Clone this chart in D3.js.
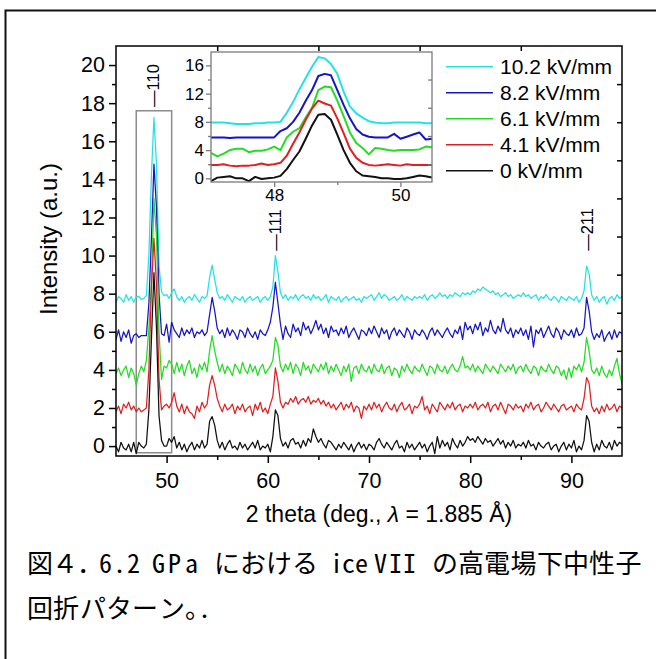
<!DOCTYPE html>
<html><head><meta charset="utf-8">
<script src="https://cdn.jsdelivr.net/npm/d3@7/dist/d3.min.js"></script>
<style>
html,body{margin:0;padding:0;background:#fff;}
svg{display:block;}
text{font-family:"Liberation Sans",Arial,sans-serif;fill:#000;}
.cap text{font-family:"Noto Sans Mono CJK JP","Noto Sans CJK JP",sans-serif;}
</style></head><body>
<svg id="c" width="656" height="659"></svg>
<script>
// ---------------- DATA ----------------
const seriesLabels = ["0 kV/mm", "4.1 kV/mm", "6.1 kV/mm", "8.2 kV/mm", "10.2 kV/mm"];
const seriesColors = ["#111111", "#e02020", "#22dd22", "#1515c8", "#22e3e3"];
const offsets = [0, 2.0, 4.0, 5.9, 7.75];
const thetaStart = 45, thetaStep = 0.25;   // 45 .. 95 deg
// intensities relative to each trace's offset
const black = [
 0.0,-0.3,0.2,-0.1,-0.2,0.1,-0.3,0.2,-0.4,0.2, 0.0,-0.1,0.1,1.9,5.6,9.1,6.2,1.6,0.3,0.0,
 0.0,0.4,0.2,0.5,-0.1,0.2,-0.2,0.1,-0.3,0.0, 0.2,-0.2,0.1,-0.1,0.3,-0.1,0.1,1.3,1.55,1.1,
 0.3,-0.1,0.2,-0.2,0.1,0.3,-0.1,0.0,-0.2,0.2, -0.1,0.1,-0.2,0.0,0.2,-0.1,0.3,-0.2,0.0,-0.1,
 0.1,-0.3,0.5,1.9,1.6,0.4,0.0,0.2,-0.1,0.3, 0.4,0.1,0.2,-0.1,0.3,0.0,0.4,0.2,0.9,0.5,
 0.2,0.4,0.1,-0.1,0.3,0.2,0.0,-0.2,0.1,-0.1, 0.2,0.0,-0.2,0.1,-0.3,0.0,0.2,-0.1,0.1,-0.2,
 0.1,0.0,-0.2,0.2,0.4,0.1,-0.1,0.2,0.0,-0.2, 0.1,0.3,-0.1,0.0,-0.3,0.2,-0.1,0.1,-0.2,0.0,
 0.2,-0.1,0.1,-0.3,0.0,0.2,-0.4,0.5,-0.1,0.3, 0.0,0.2,-0.2,0.4,0.1,-0.1,0.3,0.0,0.2,0.5,
 0.3,0.4,0.2,0.5,0.3,0.1,0.4,0.2,0.3,0.0, 0.2,0.4,0.1,0.3,-0.1,0.2,0.0,0.3,-0.1,0.1,
 0.0,0.2,-0.1,0.3,0.0,0.1,-0.2,0.2,0.0,-0.1, 0.1,0.2,-0.2,0.0,0.1,-0.3,0.0,0.2,-0.2,0.1,
 -0.1,0.3,-0.3,0.0,-0.2,0.3,1.6,1.3,0.2,-0.3, 0.1,-0.2,0.3,0.0,-0.1,0.2,-0.2,0.3,0.0,0.2,
 0.1];
const red = [
 -0.2,0.1,-0.3,0.2,0.0,0.3,-0.1,0.1,-0.2,0.0, -0.2,-0.1,0.0,2.0,6.3,8.9,6.5,1.5,-0.1,0.1,
 0.2,0.0,0.3,0.8,0.1,-0.2,0.2,-0.3,0.1,-0.2, -0.3,-0.55,0.1,-0.2,0.3,0.0,0.2,1.2,1.7,1.2,
 0.5,0.1,-0.2,0.2,-0.1,0.0,0.2,-0.3,0.1,-0.1, 0.2,-0.2,0.0,0.1,-0.4,0.2,-0.1,0.3,-0.2,0.0,
 -0.3,0.2,0.6,2.1,1.4,0.3,0.0,0.3,0.2,0.5, 0.3,0.6,0.2,0.4,0.5,0.3,0.6,0.2,0.4,0.3,
 0.5,0.2,0.4,0.1,0.3,0.0,0.2,-0.1,0.1,0.3, -0.1,0.2,0.0,0.3,-0.2,0.1,0.0,-0.55,0.1,-0.1,
 0.2,-0.1,0.3,0.0,0.2,-0.2,0.1,0.3,0.0,-0.1, 0.2,-0.2,0.1,0.3,-0.1,0.0,0.2,-0.3,0.1,0.0,
 0.2,0.6,-0.1,0.1,-0.3,0.2,0.0,-0.2,0.3,0.1, -0.1,0.2,0.0,0.3,-0.1,0.1,0.2,-0.2,0.1,0.0,
 0.2,0.0,0.3,-0.1,0.1,0.2,0.0,0.3,-0.2,0.1, 0.2,-0.1,0.3,0.0,-0.3,0.2,0.1,-0.1,0.2,0.0,
 0.1,-0.2,0.2,0.0,0.3,-0.1,0.1,0.2,-0.2,0.0, 0.3,0.1,-0.1,0.2,0.0,-0.2,0.1,0.2,-0.1,0.0,
 0.1,-0.2,0.2,0.0,-0.1,0.5,1.6,1.3,0.1,-0.2, 0.0,-0.3,0.1,-0.2,0.2,-0.1,0.0,0.2,-0.2,0.1,
 0.0];
const green = [
 -0.2,0.1,-0.3,0.0,0.2,-0.4,0.1,-0.2,-0.8,-0.2, 0.2,-0.1,0.5,2.2,4.5,9.0,7.0,2.0,-0.5,0.2,
 0.1,0.5,0.3,-0.2,0.4,-0.1,0.3,-0.3,0.2,0.5, -0.2,0.1,-0.4,0.3,0.0,0.4,-0.1,1.0,1.8,1.0,
 0.4,-0.1,0.3,-0.2,0.2,0.0,-0.3,0.3,0.1,-0.2, 0.4,0.0,-0.2,0.3,-0.1,0.2,-0.3,0.1,0.3,-0.2,
 0.0,0.2,0.5,1.7,1.3,0.2,-0.1,0.3,0.0,0.4, -0.2,0.3,0.1,-0.3,0.4,0.0,0.2,-0.2,0.3,0.1,
 -0.1,0.3,0.0,0.4,-0.2,0.2,-0.1,0.3,0.0,-0.3, 0.2,-0.1,0.3,-0.6,0.1,0.2,-0.2,0.3,0.0,-0.1,
 0.2,-0.2,0.3,0.0,-0.1,0.3,-0.2,0.1,0.2,-0.3, 0.1,0.0,-0.4,0.2,-0.1,0.3,0.0,-0.2,0.2,0.0,
 -0.1,0.3,0.0,-0.3,0.2,0.1,-0.2,0.3,0.0,-0.1, 0.2,-0.2,0.1,0.3,0.0,-0.1,0.2,0.7,0.1,0.2,
 0.0,0.3,-0.1,0.2,0.0,-0.2,0.3,0.1,-0.1,0.2, 0.0,-0.2,0.3,0.1,-0.1,0.2,0.0,0.3,-0.2,0.1,
 0.2,-0.1,0.3,0.0,-0.2,0.2,0.1,-0.3,0.2,0.0, -0.1,0.3,0.0,-0.2,0.2,0.1,-0.3,0.0,-0.5,0.1,
 -0.4,0.2,0.0,0.3,-0.1,0.4,1.7,1.0,0.0,-0.2, 0.1,-0.3,0.2,-0.2,-0.4,0.0,-0.3,0.2,0.6,-0.2,
 -0.7];
const blue = [
 -0.3,0.2,-0.4,0.1,-0.2,0.2,-0.5,-0.1,0.0,-0.2, -0.1,-0.1,-0.1,1.6,5.0,8.9,6.6,2.1,0.0,-0.1,
 0.5,-0.45,0.6,0.2,0.0,-0.2,0.3,-0.1,0.2,0.0, 0.3,-0.2,0.1,0.0,0.2,-0.1,0.1,1.0,1.9,1.2,
 0.3,0.0,0.2,-0.2,0.3,-0.1,0.2,0.0,-0.3,0.2, 0.1,-0.2,0.3,0.0,-0.2,0.1,-0.3,0.2,0.0,-0.1,
 0.2,0.6,1.4,2.7,1.6,0.5,-0.3,0.4,0.0,-0.2, 0.5,0.1,0.3,-0.1,0.6,0.2,0.4,0.0,0.3,0.7,
 0.2,0.5,0.0,0.3,-0.2,0.4,0.1,0.2,-0.1,0.3, 0.0,0.4,-0.2,0.1,0.3,0.0,-0.3,0.2,0.1,-0.1,
 0.3,0.0,0.4,0.1,-0.2,0.3,0.0,0.2,-0.3,0.1, 0.3,-0.1,0.2,0.0,-0.2,0.3,0.1,-0.3,0.2,0.0,
 -0.1,0.2,0.0,-0.3,0.1,0.3,-0.1,0.2,0.0,-0.2, 0.1,0.3,0.0,-0.2,0.2,0.0,0.4,-0.3,0.6,0.2,
 0.4,0.0,0.5,0.2,0.6,-0.1,0.3,0.1,0.7,0.2, 0.0,0.4,0.1,0.8,0.2,0.0,0.3,-0.2,0.2,0.0,
 0.3,-0.1,0.2,-0.3,0.4,-0.7,0.2,0.0,0.3,-0.2, 0.1,0.4,0.0,-0.2,0.3,0.1,-0.3,0.2,0.0,-0.1,
 0.2,-0.2,0.3,-0.1,0.0,0.3,1.9,1.2,0.1,-0.3, 0.0,-0.2,0.2,-0.4,-0.1,0.1,-0.3,0.2,-0.2,0.1,
 0.0];
const cyan = [
 -0.2,0.1,0.0,-0.2,0.2,-0.1,0.1,-0.2,0.1,0.1, -0.05,0.0,0.15,2.3,6.45,9.5,7.05,1.7,0.35,0.15,
 0.2,0.0,0.3,0.5,0.1,-0.1,0.1,-0.2,0.0,0.1, -0.1,0.2,0.0,-0.2,0.1,0.0,0.15,1.1,1.75,1.0,
 0.3,0.0,0.1,-0.1,0.2,0.0,-0.2,0.1,0.0,-0.1, 0.1,-0.2,0.0,0.1,-0.1,0.0,0.1,-0.2,0.0,0.1,
 -0.1,0.1,0.6,2.25,1.4,0.3,0.0,0.2,-0.1,0.1, 0.0,0.2,-0.1,0.1,0.2,0.0,0.1,-0.1,0.2,0.0,
 0.1,-0.1,0.0,0.2,-0.2,0.1,0.0,-0.1,0.1,-0.2, 0.0,0.1,-0.1,0.0,0.1,-0.1,0.0,-0.2,0.1,0.0,
 0.1,0.2,-0.1,0.1,0.3,0.0,0.2,0.1,-0.1,0.0, 0.1,-0.1,0.0,0.2,-0.1,0.1,0.0,-0.1,0.1,0.0,
 0.1,0.0,0.2,-0.1,0.1,0.2,0.0,0.1,0.3,0.1, 0.2,0.0,0.2,0.1,0.3,0.2,0.1,0.3,0.2,0.3,
 0.2,0.4,0.3,0.5,0.4,0.6,0.5,0.4,0.3,0.4, 0.2,0.3,0.1,0.2,0.3,0.1,0.2,0.0,0.1,0.2,
 0.1,0.3,0.1,0.2,0.0,0.1,0.2,-0.1,0.1,0.0, 0.2,0.0,-0.1,0.1,0.0,-0.2,0.1,0.0,-0.1,0.1,
 0.0,-0.1,0.1,-0.2,0.0,0.4,1.7,1.3,0.2,-0.1, 0.1,-0.2,0.0,0.1,-0.3,0.0,0.1,-0.1,0.2,0.0,
 0.1];
// inset (110 reflection), absolute plotted values, 47.0 .. 50.5 deg
const insetStart = 47.0, insetStep = 0.1;
const insetBlack = [-0.4,0.1,0.2,0.3,0.0,0.0,-0.4,0.2,-0.1,0.0, 0.1,0.35,1.3,2.6,3.8,5.6,7.5,9.0,9.1,8.3, 6.2,4.0,2.2,1.0,0.4,0.3,0.2,0.0,0.0,-0.1, -0.1,0.0,0.2,0.4,0.3,0.1];
const insetRed   = [1.9,1.9,2.0,1.8,1.7,1.8,1.8,1.9,2.1,1.9, 2.0,2.2,3.2,4.9,6.5,8.3,9.9,11.0,10.6,10.3, 8.5,6.4,4.2,2.9,2.2,1.9,1.8,1.9,2.0,1.9, 1.8,2.0,1.9,1.9,1.9,1.9];
const insetGreen = [3.6,3.1,3.5,4.0,4.2,4.2,3.7,3.9,3.9,4.1, 4.5,4.0,5.8,6.6,7.1,8.6,10.0,12.5,13.0,12.9, 11.0,8.8,6.5,5.0,4.3,3.4,4.3,4.2,4.0,3.9, 4.0,4.0,4.0,4.1,4.5,4.4];
const insetBlue  = [5.8,5.8,5.8,5.7,5.8,5.8,5.8,5.8,5.8,5.8, 5.8,6.7,7.1,8.0,9.3,11.0,12.5,14.5,14.8,14.6, 12.5,10.4,8.5,7.0,6.2,5.9,5.8,5.8,5.8,6.3, 5.6,5.9,6.2,6.5,5.5,5.6];
const insetCyan  = [7.9,7.9,7.9,7.8,7.7,7.7,7.7,7.8,7.8,7.9, 7.9,8.0,9.3,10.8,12.6,14.2,15.8,17.2,17.0,16.2, 14.8,12.3,10.2,9.2,8.6,8.1,7.9,7.8,7.8,7.9, 7.9,7.9,7.9,7.9,7.8,7.8];
// reflections
const peakLabels = ["110", "111", "211"];
const peakTheta = [48.75, 60.8, 91.6];
const peakLabelBase = [17.8, 10.25, 10.25];
// ticks
const xMajor = [50, 60, 70, 80, 90];
const xMinor = [55, 65, 75, 85];
const yMajor = [0, 2, 4, 6, 8, 10, 12, 14, 16, 18, 20];
const yMinor = [1, 3, 5, 7, 9, 11, 13, 15, 17, 19];
const insetXMajor = [48, 50];
const insetXMinor = [49];
const insetYMajor = [0, 4, 8, 12, 16];
const insetYMinor = [2, 6, 10, 14];
const zoomBox = {x0: 47, x1: 50.5, y0: -0.35, y1: 17.6};
const xTitle = "2 theta (deg., ";
const yTitle = "Intensity (a.u.)";
const captionLine1 = [["図４．", [27, 52, 77]], ["6.2", [99, 113, 127]], ["GPa", [152, 168, 185]],
  ["における", [214, 240, 266, 292]], ["ice", [330, 342, 355]], ["VII", [374, 389, 403]],
  ["の高電場下中性子", [432, 458, 484, 510.5, 537, 563, 589, 615.5]]];
const captionLine2 = [["回折パターン。.", [27, 53, 80, 106, 132, 159, 185, 198]]];

// ---------------- DRAW ----------------
const svg = d3.select("#c");
svg.append("rect").attr("width", 656).attr("height", 659).attr("fill", "#fff");
svg.append("path").attr("d", "M5.5,660 V10.5 H657").attr("fill", "none")
  .attr("stroke", "#111").attr("stroke-width", 2);

const x = d3.scaleLinear().domain([45, 95]).range([116, 622]);
const y = d3.scaleLinear().domain([-0.52, 21]).range([456, 46]);

const all = [black, red, green, blue, cyan];

// zoom box
svg.append("rect")
  .attr("x", x(zoomBox.x0)).attr("y", y(zoomBox.y1))
  .attr("width", x(zoomBox.x1) - x(zoomBox.x0)).attr("height", y(zoomBox.y0) - y(zoomBox.y1))
  .attr("fill", "none").attr("stroke", "#8c8c8c").attr("stroke-width", 1.5);

svg.append("clipPath").attr("id", "clipMain").append("rect")
  .attr("x", 116).attr("y", 46).attr("width", 506).attr("height", 410);

const line = d3.line().x((d, i) => x(thetaStart + i * thetaStep)).y(d => y(d));
const gTr = svg.append("g").attr("clip-path", "url(#clipMain)");
for (let s = all.length - 1; s >= 0; s--) {
  gTr.append("path").datum(all[s].map(v => v + offsets[s]))
    .attr("d", line).attr("fill", "none").attr("stroke", seriesColors[s])
    .attr("stroke-width", 1.25).attr("stroke-linejoin", "round");
}

// frame
svg.append("rect").attr("x", 116).attr("y", 46).attr("width", 506).attr("height", 410)
  .attr("fill", "none").attr("stroke", "#000").attr("stroke-width", 1.5);

function styleAxis(g, fs) {
  g.select(".domain").remove();
  g.selectAll(".tick line").attr("stroke", "#000").attr("stroke-width", 1.5);
  g.selectAll(".tick text").attr("font-size", fs).attr("font-family", "Liberation Sans, Arial, sans-serif");
}
svg.append("g").attr("transform", "translate(0,456)")
  .call(d3.axisBottom(x).tickValues(xMajor).tickSize(7).tickPadding(10).tickFormat(d3.format("d")))
  .call(g => styleAxis(g, 21.5));
svg.append("g").attr("transform", "translate(0,456)")
  .call(d3.axisBottom(x).tickValues(xMinor).tickSize(4).tickFormat(""))
  .call(g => styleAxis(g, 0));
svg.append("g").attr("transform", "translate(116,0)")
  .call(d3.axisLeft(y).tickValues(yMajor).tickSize(7).tickPadding(4).tickFormat(d3.format("d")))
  .call(g => styleAxis(g, 21.5));
svg.append("g").attr("transform", "translate(116,0)")
  .call(d3.axisLeft(y).tickValues(yMinor).tickSize(4).tickFormat(""))
  .call(g => styleAxis(g, 0));
svg.append("g").attr("transform", "translate(0,46)")
  .call(d3.axisTop(x).tickValues(xMinor).tickSize(-5).tickFormat(""))
  .call(g => styleAxis(g, 0));
svg.append("g").attr("transform", "translate(622,0)")
  .call(d3.axisRight(y).tickValues(yMinor).tickSize(-5).tickFormat(""))
  .call(g => styleAxis(g, 0));

// axis titles
const xt = svg.append("text").attr("x", 379).attr("y", 522).attr("text-anchor", "middle")
  .attr("font-size", 23);
xt.append("tspan").text(xTitle);
xt.append("tspan").attr("font-style", "italic").text("λ");
xt.append("tspan").text(" = 1.885 Å)");
svg.append("text").attr("transform", "translate(56.5,239) rotate(-90)")
  .attr("text-anchor", "middle").attr("font-size", 24).text(yTitle);

// reflection labels
peakLabels.forEach((lab, k) => {
  svg.append("text")
    .attr("transform", `translate(${x(peakTheta[k]) + 5.5},${y(peakLabelBase[k])}) rotate(-90)`)
    .attr("font-size", 16.5).text("\u2014" + lab);
});

// legend
const legOrder = [4, 3, 2, 1, 0];
legOrder.forEach((s, k) => {
  const yy = 66.7 + k * 26;
  svg.append("line").attr("x1", 446).attr("x2", 493).attr("y1", yy).attr("y2", yy)
    .attr("stroke", seriesColors[s]).attr("stroke-width", 1.5);
  svg.append("text").attr("x", 500).attr("y", yy).attr("dy", "0.36em")
    .attr("font-size", 21).text(seriesLabels[s]);
});

// inset
const xi = d3.scaleLinear().domain([47, 50.5]).range([211, 432]);
const yi = d3.scaleLinear().domain([-0.52, 17.9]).range([182, 52]);
svg.append("rect").attr("x", 211).attr("y", 52).attr("width", 221).attr("height", 130)
  .attr("fill", "#fff");
svg.append("clipPath").attr("id", "clipIn").append("rect")
  .attr("x", 211).attr("y", 52).attr("width", 221).attr("height", 130);
const lineI = d3.line().x((d, i) => xi(insetStart + i * insetStep)).y(d => yi(d));
const insetAll = [insetBlack, insetRed, insetGreen, insetBlue, insetCyan];
const gIn = svg.append("g").attr("clip-path", "url(#clipIn)");
for (let s = insetAll.length - 1; s >= 0; s--) {
  gIn.append("path").datum(insetAll[s]).attr("d", lineI).attr("fill", "none")
    .attr("stroke", seriesColors[s]).attr("stroke-width", 2).attr("stroke-linejoin", "round");
}
svg.append("rect").attr("x", 211).attr("y", 52).attr("width", 221).attr("height", 130)
  .attr("fill", "none").attr("stroke", "#7a7a7a").attr("stroke-width", 1.3);
function styleInset(g, fs) {
  g.select(".domain").remove();
  g.selectAll(".tick line").attr("stroke", "#7a7a7a").attr("stroke-width", 1.3);
  g.selectAll(".tick text").attr("font-size", fs).attr("font-family", "Liberation Sans, Arial, sans-serif");
}
svg.append("g").attr("transform", "translate(0,182)")
  .call(d3.axisBottom(xi).tickValues(insetXMajor).tickSize(5).tickPadding(2).tickFormat(d3.format("d")))
  .call(g => styleInset(g, 17));
svg.append("g").attr("transform", "translate(0,182)")
  .call(d3.axisBottom(xi).tickValues(insetXMinor).tickSize(3).tickFormat(""))
  .call(g => styleInset(g, 0));
svg.append("g").attr("transform", "translate(211,0)")
  .call(d3.axisLeft(yi).tickValues(insetYMajor).tickSize(5).tickPadding(2).tickFormat(d3.format("d")))
  .call(g => styleInset(g, 17));
svg.append("g").attr("transform", "translate(211,0)")
  .call(d3.axisLeft(yi).tickValues(insetYMinor).tickSize(3).tickFormat(""))
  .call(g => styleInset(g, 0));
svg.append("g").attr("transform", "translate(432,0)")
  .call(d3.axisRight(yi).tickValues(insetYMinor).tickSize(-4).tickFormat(""))
  .call(g => styleInset(g, 0));

// caption
const cap = svg.append("g").attr("class", "cap");
function capLine(parts, baseY) {
  const t = cap.append("text").attr("y", baseY).attr("font-size", 26);
  parts.forEach(([str, xs]) => t.append("tspan").attr("x", xs.join(" ")).text(str));
}
capLine(captionLine1, 573);
capLine(captionLine2, 618);
</script>
</body></html>
